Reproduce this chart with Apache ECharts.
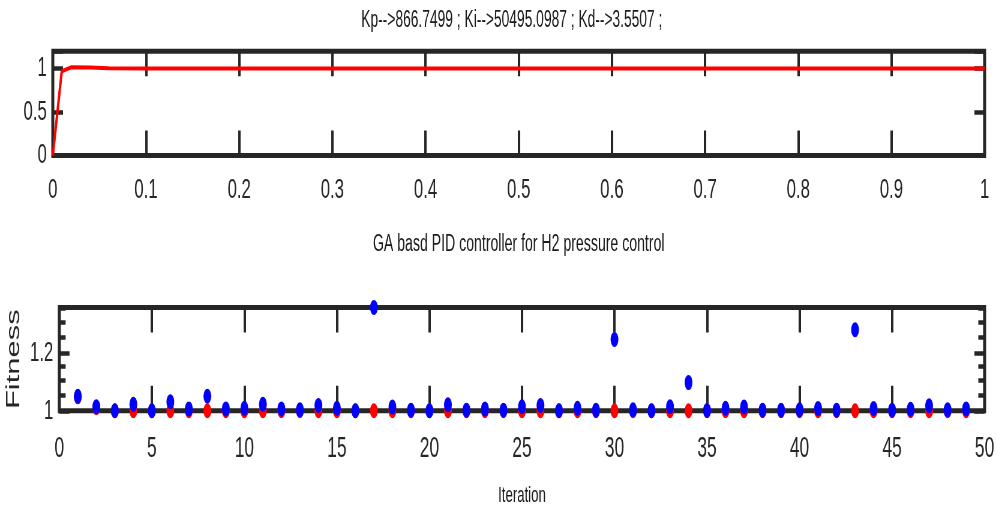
<!DOCTYPE html>
<html>
<head>
<meta charset="utf-8">
<script src="https://cdn.jsdelivr.net/npm/echarts@6/dist/echarts.min.js"></script>
<style>
html, body { margin:0; padding:0; overflow:hidden; background:#fff; width:997px; height:515px; }
#wrap { width:997px; height:515px; overflow:hidden; position:relative; }
#c { width:1662px; height:515px; transform:scaleX(0.6); transform-origin:0 0; position:absolute; left:0; top:0; }
</style>
</head>
<body>
<div id="wrap"><div id="c"></div></div>
<script>
// ---- data ----
const titleText = 'Kp-->866.7499 ; Ki-->50495.0987 ; Kd-->3.5507 ;';
const midLabel = 'GA basd PID controller for H2 pressure control';
const xLabelBottom = 'Iteration';
const yLabelBottom = 'Fitness';

const respTime = [0, 0.0096, 0.02, 0.04, 0.06, 0.1, 1];
const respValue = [0, 0.97, 1.015, 1.012, 1.005, 1.0, 1.0];

const topXTickVals = [0, 0.1, 0.2, 0.3, 0.4, 0.5, 0.6, 0.7, 0.8, 0.9, 1];
const topXTickLabels = ['0', '0.1', '0.2', '0.3', '0.4', '0.5', '0.6', '0.7', '0.8', '0.9', '1'];
const topYTickVals = [0, 0.5, 1];
const topYTickLabels = ['0', '0.5', '1'];

const iterations = [1,2,3,4,5,6,7,8,9,10,11,12,13,14,15,16,17,18,19,20,21,22,23,24,25,26,27,28,29,30,31,32,33,34,35,36,37,38,39,40,41,42,43,44,45,46,47,48,49];
const bestFitness = [1.045,1.01,1,1,1,1,1,1,1,1,1,1,1,1,1,1,1,1,1,1,1,1,1,1,1,1,1,1,1,1,1,1,1,1,1,1,1,1,1,1,1,1,1,1,1,1,1,1,1];
const meanFitness = [1.047,1.013,1.0,1.021,1.0,1.029,1.006,1.047,1.006,1.008,
                     1.021,1.006,1.003,1.017,1.008,1.0,1.385,1.012,1.002,1.0,
                     1.019,1.002,1.006,1.002,1.013,1.017,1.0,1.008,1.002,1.252,
                     1.003,1.0,1.013,1.093,1.001,1.008,1.012,1.002,1.002,1.003,
                     1.007,1.002,1.291,1.007,1.002,1.005,1.016,1.003,1.006];

const botXTickVals = [0, 5, 10, 15, 20, 25, 30, 35, 40, 45, 50];
const botXTickLabels = ['0', '5', '10', '15', '20', '25', '30', '35', '40', '45', '50'];
const botYTickVals = [1, 1.2];
const botYTickLabels = ['1', '1.2'];

// ---- helpers ----
function fmt(vals, labels) {
  return function (v) {
    for (let i = 0; i < vals.length; i++) {
      if (Math.abs(vals[i] - v) < 1e-6) return labels[i];
    }
    return '';
  };
}
const AX = '#262626';
const FONT = "'Liberation Sans', Arial, Helvetica, sans-serif";

function xTick() { return { show: true, inside: true, length: 25, lineStyle: { color: AX, width: 4 } }; }
function yTick() { return { show: true, inside: true, length: 17, lineStyle: { color: AX, width: 4.5 } }; }
function noLine() { return { show: false, onZero: false }; }

const chart = echarts.init(document.getElementById('c'), null, { width: 1662, height: 515, renderer: 'canvas', devicePixelRatio: 1 });

chart.setOption({
  animation: false,
  backgroundColor: '#fff',
  textStyle: { fontFamily: FONT },
  title: [{
    text: titleText, left: 853, top: 9, textAlign: 'center', padding: 0,
    textStyle: { fontSize: 23, fontWeight: 'normal', color: '#1a1a1a', fontFamily: FONT }
  }],
  grid: [
    { left: 88, right: 21, top: 51.2, height: 104.3, show: true, borderWidth: 5, borderColor: AX, backgroundColor: '#fff' },
    { left: 88, right: 21, top: 307.5, height: 103.3, show: true, borderWidth: 5, borderColor: AX, backgroundColor: '#fff' }
  ],
  xAxis: [
    { gridIndex: 0, type: 'value', position: 'bottom', min: 0, max: 1, interval: 0.1,
      axisLine: noLine(), axisTick: xTick(), splitLine: { show: false },
      axisLabel: { fontSize: 28, color: AX, margin: 21, fontFamily: FONT, formatter: fmt(topXTickVals, topXTickLabels), showMinLabel: true, showMaxLabel: true },
      name: midLabel, nameLocation: 'middle', nameGap: 77,
      nameTextStyle: { fontSize: 23.5, color: '#1a1a1a', fontFamily: FONT } },
    { gridIndex: 0, type: 'value', position: 'top', min: 0, max: 1, interval: 0.1,
      axisLine: noLine(), axisTick: xTick(), splitLine: { show: false }, axisLabel: { show: false } },
    { gridIndex: 1, type: 'value', position: 'bottom', min: 0, max: 50, interval: 5,
      axisLine: noLine(), axisTick: xTick(), splitLine: { show: false },
      axisLabel: { fontSize: 29, color: AX, margin: 24, fontFamily: FONT, formatter: fmt(botXTickVals, botXTickLabels), showMinLabel: true, showMaxLabel: true },
      name: xLabelBottom, nameLocation: 'middle', nameGap: 74,
      nameTextStyle: { fontSize: 22, color: '#1a1a1a', fontFamily: FONT } },
    { gridIndex: 1, type: 'value', position: 'top', min: 0, max: 50, interval: 5,
      axisLine: noLine(), axisTick: xTick(), splitLine: { show: false }, axisLabel: { show: false } }
  ],
  yAxis: [
    { gridIndex: 0, type: 'value', position: 'left', min: 0, max: 1.2, interval: 0.5,
      axisLine: noLine(), axisTick: yTick(), splitLine: { show: false },
      axisLabel: { fontSize: 28, color: AX, margin: 10, fontFamily: FONT, formatter: fmt(topYTickVals, topYTickLabels) } },
    { gridIndex: 0, type: 'value', position: 'right', min: 0, max: 1.2, interval: 0.5,
      axisLine: noLine(), axisTick: yTick(), splitLine: { show: false }, axisLabel: { show: false } },
    { gridIndex: 1, type: 'log', logBase: 10, position: 'left', min: 1, max: 1.385, interval: Math.log10(1.2),
      axisLine: noLine(), axisTick: yTick(), splitLine: { show: false },
      minorTick: { show: true, splitNumber: 4, length: 10.5, lineStyle: { color: AX, width: 4.5 } },
      axisLabel: { fontSize: 28, color: AX, margin: 10, fontFamily: FONT, formatter: fmt(botYTickVals, botYTickLabels) },
      name: yLabelBottom, nameLocation: 'middle', nameGap: 29,
      nameTextStyle: { fontSize: 31, color: '#262626', fontFamily: FONT } },
    { gridIndex: 1, type: 'log', logBase: 10, position: 'right', min: 1, max: 1.385, interval: Math.log10(1.2),
      axisLine: noLine(), axisTick: yTick(), splitLine: { show: false },
      minorTick: { show: true, splitNumber: 4, length: 10.5, lineStyle: { color: AX, width: 4.5 } },
      axisLabel: { show: false } }
  ],
  series: [
    { type: 'line', xAxisIndex: 0, yAxisIndex: 0, showSymbol: false, symbol: 'none',
      data: respTime.map((t, i) => [t, respValue[i]]),
      lineStyle: { color: '#ff0000', width: 4 }, z: 5 },
    { type: 'scatter', xAxisIndex: 2, yAxisIndex: 2, clip: false,
      data: iterations.map((it, i) => [it, bestFitness[i]]),
      symbol: 'circle', symbolSize: [13, 15], itemStyle: { color: '#ff0000', opacity: 1 }, z: 5 },
    { type: 'scatter', xAxisIndex: 2, yAxisIndex: 2, clip: false,
      data: iterations.map((it, i) => [it, meanFitness[i]]),
      symbol: 'circle', symbolSize: [13, 15], itemStyle: { color: '#0000ff', opacity: 1 }, z: 6 }
  ]
});
</script>
</body>
</html>
